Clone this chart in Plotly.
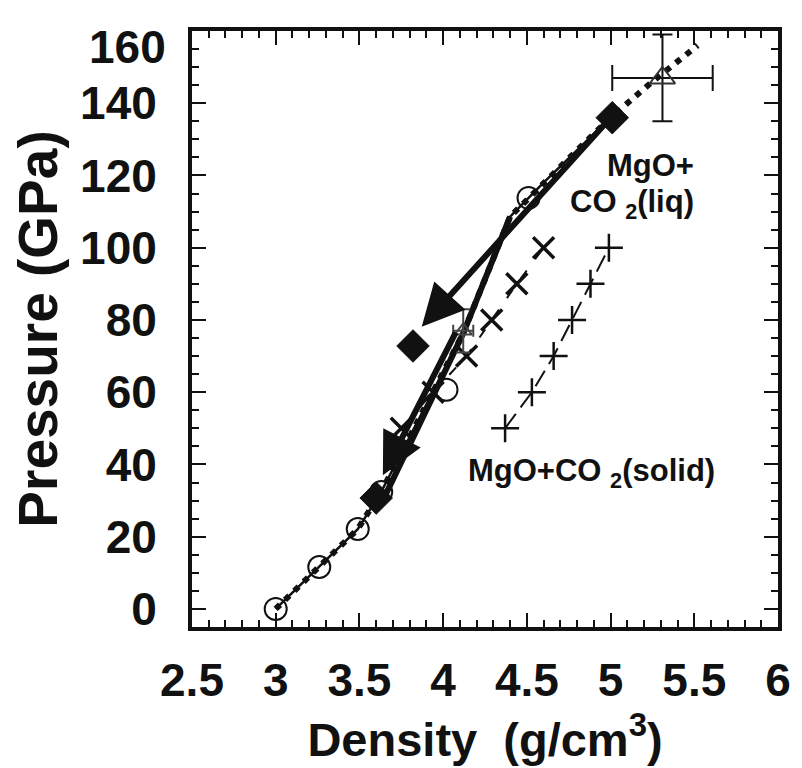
import plotly.graph_objects as go

# ---- data ----
circ_x = [3.00, 3.26, 3.49, 3.63, 4.02, 4.51]
circ_y = [0.0, 11.6, 22.1, 32.4, 60.7, 113.8]

dia_x = [3.60, 3.82, 5.01]
dia_y = [30.7, 72.8, 136.0]

xm_x = [3.75, 3.94, 4.14, 4.29, 4.44, 4.60]
xm_y = [50, 60, 70, 80, 90, 100]

pm_x = [4.37, 4.53, 4.66, 4.77, 4.88, 4.99]
pm_y = [50, 60, 70, 80, 90, 100]

curve_x = [3.00, 3.26, 3.49, 3.63, 4.12, 4.40, 4.60, 4.80, 5.00, 5.25, 5.52]
curve_y = [0.0, 11.6, 22.1, 32.4, 76.3, 108.6, 118.0, 127.0, 136.0, 146.0, 156.0]

path_x = [3.66, 4.12, 4.40]
path_y = [32.0, 76.3, 108.6]

rel_start_x = [5.00, 4.08]
rel_start_y = [136.0, 77.0]
rel_end_x = [3.872, 3.64]
rel_end_y = [78.1, 37.0]

tri_big_x, tri_big_y, tri_big_ex, tri_big_ey = [5.31], [147.0], [0.30], [12.0]
tri_sm_x, tri_sm_y, tri_sm_ex, tri_sm_ey = [4.12], [77.0], [0.06], [6.0]

x_range = [2.5, 6.0]
y_range = [-5, 160]
x_major, x_minor = 0.5, 0.1
y_major, y_minor = 20, 5
y_hidden_label = "160"   # drawn lower, as in the reference

FONT = "Liberation Sans"
BLACK = "#111111"

fig = go.Figure()

n_thin = curve_x.index(5.00) + 1
fig.add_trace(go.Scatter(x=curve_x[:n_thin], y=curve_y[:n_thin], mode="lines",
                         line=dict(color=BLACK, width=2.5), showlegend=False))
fig.add_trace(go.Scatter(x=curve_x, y=curve_y, mode="lines",
                         line=dict(color=BLACK, width=6, dash="6px,7px"), showlegend=False))
fig.add_trace(go.Scatter(x=path_x, y=path_y, mode="lines",
                         line=dict(color=BLACK, width=6), showlegend=False))
fig.add_trace(go.Scatter(x=xm_x, y=xm_y, mode="lines+markers",
                         line=dict(color=BLACK, width=2, dash="10px,14px"),
                         marker=dict(symbol="x-thin", size=21, line=dict(color=BLACK, width=3.5)),
                         showlegend=False))
fig.add_trace(go.Scatter(x=pm_x, y=pm_y, mode="lines+markers",
                         line=dict(color=BLACK, width=2, dash="18px,8px"),
                         marker=dict(symbol="cross-thin", size=20, line=dict(color=BLACK, width=2.5)),
                         showlegend=False))
fig.add_trace(go.Scatter(x=circ_x, y=circ_y, mode="markers",
                         marker=dict(symbol="circle-open", size=22, color=BLACK,
                                     line=dict(color=BLACK, width=2)),
                         showlegend=False))
fig.add_trace(go.Scatter(x=dia_x, y=dia_y, mode="markers",
                         marker=dict(symbol="diamond", size=25, color=BLACK,
                                     line=dict(color=BLACK, width=1)),
                         showlegend=False))
fig.add_trace(go.Scatter(x=tri_big_x, y=tri_big_y, mode="markers",
                         marker=dict(symbol="triangle-up-open", size=22, color="#333333",
                                     line=dict(color="#333333", width=2)),
                         error_x=dict(type="data", array=tri_big_ex, color=BLACK, thickness=2, width=13),
                         error_y=dict(type="data", array=tri_big_ey, color=BLACK, thickness=2, width=10),
                         showlegend=False))
fig.add_trace(go.Scatter(x=tri_sm_x, y=tri_sm_y, mode="markers",
                         marker=dict(symbol="triangle-up-open", size=15, color="#444444",
                                     line=dict(color="#444444", width=2)),
                         error_x=dict(type="data", array=tri_sm_ex, color="#444444", thickness=2, width=6),
                         error_y=dict(type="data", array=tri_sm_ey, color="#444444", thickness=2, width=7),
                         showlegend=False))

annotations = []
for sx, sy, ex, ey in zip(rel_start_x, rel_start_y, rel_end_x, rel_end_y):
    annotations.append(dict(x=ex, y=ey, ax=sx, ay=sy, xref="x", yref="y", axref="x", ayref="y",
                            text="", showarrow=True, arrowhead=2, arrowsize=1.4,
                            arrowwidth=6, arrowcolor=BLACK, standoff=0))

lab_font = dict(family=FONT, size=31, color=BLACK, weight="bold")
tick_font = dict(family=FONT, size=46, color=BLACK, weight="bold")
xtitle_font = dict(family=FONT, size=47, color=BLACK, weight="bold")
ytitle_font = dict(family=FONT, size=55, color=BLACK, weight="bold")

annotations += [
    dict(x=5.236, y=122.9, xref="x", yref="y", text="MgO+", showarrow=False, font=lab_font),
    dict(x=5.128, y=112.1, xref="x", yref="y", text="CO <sub>2</sub>(liq)", showarrow=False, font=lab_font),
    dict(x=4.884, y=37.6, xref="x", yref="y", text="MgO+CO <sub>2</sub>(solid)", showarrow=False, font=lab_font),
    dict(x=0, y=float(y_hidden_label), xref="paper", yref="y", xanchor="right", yanchor="middle",
         xshift=-24, yshift=-16, text=y_hidden_label, showarrow=False, font=tick_font),
]

axis_common = dict(showgrid=False, zeroline=False, showline=True, linewidth=4, linecolor=BLACK,
                   mirror="ticks", ticks="inside", ticklen=14, tickwidth=2, tickcolor=BLACK,
                   tickfont=tick_font, automargin=False)

fig.update_layout(
    width=802, height=768,
    margin=dict(l=192, r=24, t=31, b=141),
    paper_bgcolor="white", plot_bgcolor="white",
    showlegend=False,
    annotations=annotations,
    xaxis=dict(range=x_range, tickmode="linear", tick0=x_range[0], dtick=x_major,
               minor=dict(dtick=x_minor, ticks="inside", ticklen=7, tickwidth=2, tickcolor=BLACK),
               ticklabelstandoff=10,
               title=dict(text="Density  (g/cm<sup>3</sup>)", font=xtitle_font, standoff=14),
               **axis_common),
    yaxis=dict(range=y_range, tickmode="linear", tick0=0, dtick=y_major,
               minor=dict(dtick=y_minor, ticks="inside", ticklen=7, tickwidth=2, tickcolor=BLACK),
               labelalias={y_hidden_label: " "},
               ticklabelstandoff=22,
               title=dict(text="Pressure (GPa)", font=ytitle_font, standoff=6),
               **axis_common),
)

fig.write_html("out.html")
